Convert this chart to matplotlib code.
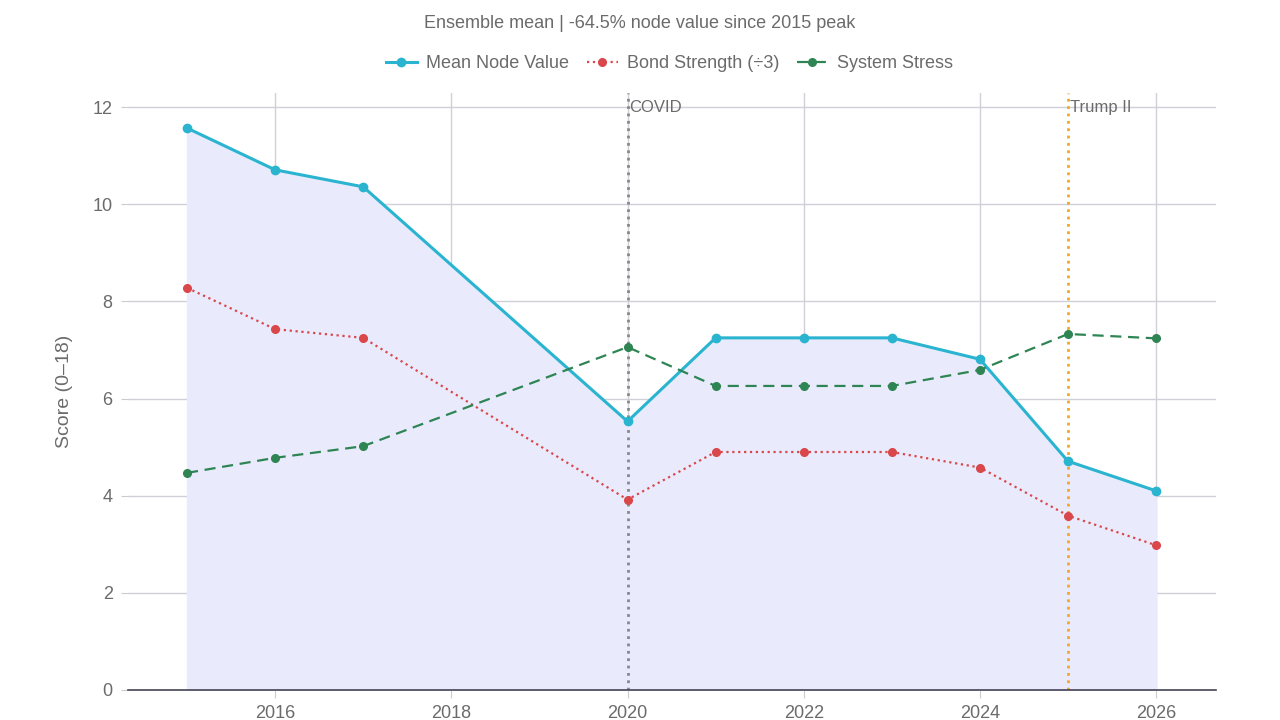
import matplotlib
matplotlib.use("Agg")
import matplotlib.pyplot as plt

plt.rcParams['font.family'] = ['Liberation Sans', 'DejaVu Sans']

years = [2015, 2016, 2017, 2020, 2021, 2022, 2023, 2024, 2025, 2026]
node_value = [11.57, 10.71, 10.36, 5.53, 7.25, 7.25, 7.25, 6.81, 4.71, 4.10]
bond_strength = [8.28, 7.43, 7.25, 3.92, 4.90, 4.90, 4.90, 4.58, 3.59, 2.98]
system_stress = [4.47, 4.78, 5.02, 7.06, 6.26, 6.26, 6.26, 6.59, 7.33, 7.24]

events = [2020, 2025]
event_labels = ['COVID', 'Trump II']
event_colors = ['#888888', '#F5A623']

grey = '#6b6b6b'

fig = plt.figure(figsize=(12.8, 7.2), dpi=100)
ax = fig.add_axes([0.1, 0.0417, 0.85, 0.829])

ax.fill_between(years, 0, node_value, color='#E9EBFD', zorder=1)
ax.plot(years, node_value, '-o', color='#2AB4CF', lw=2.2, ms=6, label='Mean Node Value', zorder=4)
ax.plot(years, bond_strength, ':o', color='#D9474B', lw=1.6, ms=5.5, label='Bond Strength (÷3)', zorder=4)
ax.plot(years, system_stress, '--o', color='#2E8553', lw=1.6, ms=5.5, dashes=(5, 3), label='System Stress', zorder=4)

for x, lab, c in zip(events, event_labels, event_colors):
    ax.axvline(x, color=c, ls=':', lw=2, zorder=3)
    ax.text(x + 0.02, 12.0, lab, color=grey, fontsize=12, ha='left', va='center', zorder=5)

ax.set_xlim(2014.33, 2026.68)
ax.set_ylim(0, 12.29)
ax.set_xticks([2016, 2018, 2020, 2022, 2024, 2026])
ax.set_yticks([0, 2, 4, 6, 8, 10, 12])
ax.grid(True, color='#d0d0d8', lw=1, zorder=0)
ax.set_axisbelow(True)
for s in ['top', 'right', 'left']:
    ax.spines[s].set_visible(False)
ax.spines['bottom'].set_color('#444455')
ax.spines['bottom'].set_linewidth(1.2)
ax.spines['bottom'].set_zorder(6)
ax.tick_params(axis='y', length=5, color='#cccccc', labelcolor=grey, labelsize=13, pad=6)
ax.tick_params(axis='x', length=6, color='#cccccc', labelcolor=grey, labelsize=13, pad=5)
ax.set_ylabel('Score (0–18)', color=grey, fontsize=14, labelpad=14)

fig.text(0.5, 0.968, 'Ensemble mean | -64.5% node value since 2015 peak', ha='center', va='center',
         color=grey, fontsize=13)
fig.legend(loc='center', bbox_to_anchor=(0.523, 0.912), ncol=3, frameon=False, fontsize=13,
           labelcolor=grey, handlelength=1.7, columnspacing=1.0, handletextpad=0.5)

fig.savefig('out.png', dpi=100)
